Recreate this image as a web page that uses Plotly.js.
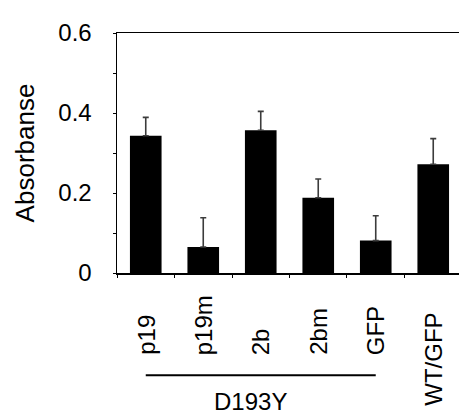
<!DOCTYPE html>
<html>
<head>
<meta charset="utf-8">
<script src="https://cdn.plot.ly/plotly-3.0.1.min.js"></script>
<style>html,body{margin:0;padding:0;background:#fff;}#chart{width:459px;height:416px;}</style>
</head>
<body>
<div id="chart"></div>
<script>
const categories = ["p19", "p19m", "2b", "2bm", "GFP", "WT/GFP"];
const absorbance = [0.343, 0.065, 0.357, 0.188, 0.081, 0.272];
const errorUp = [0.046, 0.073, 0.047, 0.047, 0.062, 0.064];
const errorDown = [0, 0, 0, 0, 0, 0];
const yTicks = [0, 0.2, 0.4, 0.6];
const groupLabel = "D193Y";
const groupMembers = ["p19", "p19m", "2b", "2bm", "GFP"];
const labelShift = [-84, -84, -84, -84, -84, -135];

const FONT = "Liberation Sans, Arial, Helvetica, sans-serif";
const TICK_SIZE = 24;

const trace = {
  type: "bar",
  x: categories,
  y: absorbance,
  marker: {color: "#000000"},
  error_y: {
    type: "data",
    symmetric: false,
    array: errorUp,
    arrayminus: errorDown,
    color: "#3c3c3c",
    thickness: 1.6,
    width: 3
  },
  hoverinfo: "x+y"
};

const annotations = categories.map((c, i) => ({
  x: c, xref: "x",
  y: 0, yref: "paper",
  yshift: labelShift[i],
  text: c,
  textangle: -90,
  showarrow: false,
  xanchor: "center",
  yanchor: "bottom",
  font: {family: FONT, size: TICK_SIZE, color: "#000"}
}));
annotations.push({
  x: 1.82, xref: "x",
  y: 0, yref: "paper",
  yshift: -128,
  text: groupLabel,
  showarrow: false,
  xanchor: "center",
  yanchor: "middle",
  font: {family: FONT, size: TICK_SIZE, color: "#000"}
});

const layout = {
  width: 459,
  height: 416,
  margin: {l: 117, r: 0, t: 33, b: 143, pad: 0},
  paper_bgcolor: "#ffffff",
  plot_bgcolor: "#ffffff",
  showlegend: false,
  bargap: 0.45,
  font: {family: FONT, color: "#000"},
  xaxis: {
    type: "category",
    range: [-0.5, 5.448],
    showline: true,
    linecolor: "#000",
    linewidth: 1.5,
    mirror: true,
    ticks: "outside",
    tickson: "boundaries",
    ticklen: 3,
    tickwidth: 1,
    tickcolor: "#000",
    showticklabels: false,
    showgrid: false,
    zeroline: false,
    fixedrange: true
  },
  yaxis: {
    range: [0, 0.6],
    tickvals: yTicks,
    ticktext: yTicks.map(v => v === 0 ? "0" : v.toFixed(1)),
    showline: true,
    linecolor: "#000",
    linewidth: 1.5,
    ticks: "outside",
    ticklen: 3,
    tickwidth: 1,
    tickcolor: "#000",
    ticklabelstandoff: 16,
    minor: {dtick: 0.1, tick0: 0, ticks: "outside", ticklen: 3, tickwidth: 1, tickcolor: "#000", showgrid: false},
    tickfont: {family: FONT, size: TICK_SIZE, color: "#000"},
    showgrid: false,
    zeroline: false,
    title: {text: "Absorbanse", font: {family: FONT, size: 26, color: "#000"}, standoff: 16},
    fixedrange: true
  },
  shapes: [{
    type: "line",
    xref: "x", yref: "paper",
    x0: groupMembers[0], x1: groupMembers[groupMembers.length - 1],
    y0: -0.426, y1: -0.426,
    line: {color: "#000", width: 2}
  }],
  annotations: annotations
};

Plotly.newPlot("chart", [trace], layout, {displayModeBar: false, staticPlot: true});
</script>
</body>
</html>
